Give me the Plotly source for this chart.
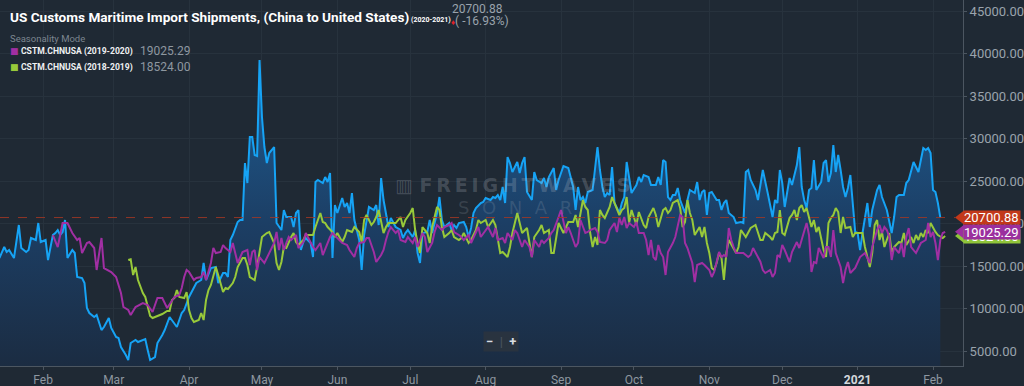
import plotly.graph_objects as go

# ---------------- data ----------------
blue_dates = """
2020-01-14 2020-01-16 2020-01-17 2020-01-18 2020-01-20 2020-01-22 2020-01-23 2020-01-25 2020-01-26 2020-01-27 2020-01-29 2020-01-30 2020-01-31
2020-02-02 2020-02-03 2020-02-05 2020-02-06 2020-02-07 2020-02-08 2020-02-09 2020-02-10 2020-02-11 2020-02-13 2020-02-14 2020-02-15 2020-02-17 2020-02-18 2020-02-19 2020-02-20 2020-02-22 2020-02-23 2020-02-25 2020-02-26 2020-02-28 2020-02-29
2020-03-02 2020-03-03 2020-03-04 2020-03-06 2020-03-07 2020-03-08 2020-03-10 2020-03-11 2020-03-13 2020-03-14 2020-03-15 2020-03-16 2020-03-18 2020-03-19 2020-03-21 2020-03-22 2020-03-24 2020-03-25 2020-03-27 2020-03-29 2020-03-30
2020-04-01 2020-04-02 2020-04-03 2020-04-04 2020-04-06 2020-04-07 2020-04-08 2020-04-09 2020-04-10 2020-04-12 2020-04-13 2020-04-15 2020-04-16 2020-04-17 2020-04-18 2020-04-19 2020-04-21 2020-04-22 2020-04-23 2020-04-24 2020-04-25 2020-04-26 2020-04-27 2020-04-28 2020-04-29 2020-04-30
2020-05-01 2020-05-02 2020-05-03 2020-05-04 2020-05-06 2020-05-07 2020-05-08 2020-05-09 2020-05-10 2020-05-11 2020-05-13 2020-05-14 2020-05-15 2020-05-16 2020-05-17 2020-05-18 2020-05-19 2020-05-21 2020-05-22 2020-05-23 2020-05-24 2020-05-26 2020-05-27 2020-05-28 2020-05-29 2020-05-30 2020-05-31
2020-06-01 2020-06-03 2020-06-04 2020-06-05 2020-06-06 2020-06-07 2020-06-08 2020-06-10 2020-06-11 2020-06-12 2020-06-14 2020-06-16 2020-06-17 2020-06-18 2020-06-19 2020-06-20 2020-06-21 2020-06-22 2020-06-23 2020-06-24 2020-06-25 2020-06-27 2020-06-28 2020-06-29 2020-06-30
2020-07-02 2020-07-03 2020-07-04 2020-07-05 2020-07-06 2020-07-08 2020-07-09 2020-07-10 2020-07-12 2020-07-13 2020-07-14 2020-07-15 2020-07-17 2020-07-18 2020-07-19 2020-07-20 2020-07-21 2020-07-23 2020-07-24 2020-07-25 2020-07-26 2020-07-27 2020-07-28 2020-07-30 2020-07-31
2020-08-01 2020-08-03 2020-08-04 2020-08-05 2020-08-06 2020-08-07 2020-08-08 2020-08-09 2020-08-10 2020-08-11 2020-08-12 2020-08-14 2020-08-15 2020-08-16 2020-08-17 2020-08-18 2020-08-20 2020-08-21 2020-08-22 2020-08-24 2020-08-25 2020-08-26 2020-08-27 2020-08-29 2020-08-30 2020-08-31
2020-09-01 2020-09-02 2020-09-04 2020-09-05 2020-09-06 2020-09-07 2020-09-08 2020-09-09 2020-09-10 2020-09-11 2020-09-12 2020-09-14 2020-09-15 2020-09-16 2020-09-17 2020-09-18 2020-09-19 2020-09-20 2020-09-21 2020-09-22 2020-09-23 2020-09-25 2020-09-26 2020-09-27 2020-09-28 2020-09-29 2020-09-30
2020-10-02 2020-10-03 2020-10-04 2020-10-05 2020-10-07 2020-10-08 2020-10-10 2020-10-11 2020-10-12 2020-10-13 2020-10-14 2020-10-15 2020-10-16 2020-10-17 2020-10-18 2020-10-19 2020-10-20 2020-10-21 2020-10-22 2020-10-23 2020-10-24 2020-10-26 2020-10-27 2020-10-28 2020-10-29 2020-10-30 2020-10-31
2020-11-01 2020-11-02 2020-11-04 2020-11-05 2020-11-06 2020-11-07 2020-11-08 2020-11-09 2020-11-11 2020-11-12 2020-11-14 2020-11-15 2020-11-16 2020-11-17 2020-11-18 2020-11-20 2020-11-21 2020-11-22 2020-11-23 2020-11-25 2020-11-26 2020-11-27 2020-11-28 2020-11-29 2020-11-30
2020-12-01 2020-12-02 2020-12-03 2020-12-04 2020-12-05 2020-12-07 2020-12-08 2020-12-09 2020-12-10 2020-12-11 2020-12-12 2020-12-13 2020-12-14 2020-12-15 2020-12-17 2020-12-18 2020-12-19 2020-12-20 2020-12-21 2020-12-22 2020-12-23 2020-12-24 2020-12-25 2020-12-26 2020-12-27 2020-12-28 2020-12-29 2020-12-30 2020-12-31
2021-01-01 2021-01-02 2021-01-03 2021-01-04 2021-01-05 2021-01-06 2021-01-07 2021-01-08 2021-01-09 2021-01-10 2021-01-11 2021-01-13 2021-01-14 2021-01-15 2021-01-16 2021-01-17 2021-01-18 2021-01-20 2021-01-21 2021-01-22 2021-01-24 2021-01-25 2021-01-26 2021-01-27 2021-01-28 2021-01-29 2021-01-30 2021-01-31
2021-02-01 2021-02-02 2021-02-03 2021-02-04
""".split()
blue_values = [
    15940, 17235, 16646, 16882, 15940, 19823, 17117, 16646, 16882, 18294, 18058, 20058, 17823,
    18058, 15705, 18646, 18882, 19235, 18646, 19000, 20411, 15940, 16882, 16529, 13705, 13588, 12999, 10058, 9470, 9000, 9235, 7470, 7823, 8882, 7705,
    6646, 6528, 5470, 4528, 3940, 5940, 6293, 6058, 6293, 6411, 5117, 3940, 4293, 5940, 6881, 7470, 9000, 8646, 7823, 9470, 9823,
    11352, 11940, 12411, 12999, 13352, 15352, 13352, 14176, 14764, 14881, 12999, 14176, 14176, 13705, 18058, 18646, 20176, 20411, 20411, 27117, 24764, 30176, 30176, 28058, 27941, 39235,
    32529, 28999, 27117, 28294, 28999, 20058, 19588, 19235, 21588, 20764, 20764, 19588, 21235, 21588, 16882, 17823, 18294, 17705, 16058, 24882, 25117, 24764, 25470, 24882, 25941, 15940, 22176,
    21235, 23000, 21941, 22411, 21235, 23588, 20411, 18058, 14529, 18646, 21941, 21588, 22176, 19823, 25353, 22764, 21235, 19588, 20647, 20058, 19588, 19235, 18294, 18882, 19235,
    18411, 19235, 16529, 15352, 18882, 19000, 20411, 18882, 21235, 23117, 20411, 19588, 20058, 19235, 19823, 19470, 20058, 20176, 19588, 18411, 19470, 21235, 21823, 22411, 22529,
    23000, 22764, 23117, 23000, 23352, 22764, 24294, 22411, 27823, 27117, 26058, 27235, 25941, 27117, 27823, 23705, 22764, 26058, 25117, 24764, 25353, 24294, 25470, 26529, 23941, 25117,
    25941, 26764, 26529, 25470, 24294, 21588, 24294, 22764, 23117, 22411, 23705, 23941, 26294, 28999, 26294, 24294, 23117, 23588, 23352, 26647, 22411, 21235, 22411, 23117, 27235, 25470, 23588,
    24529, 25470, 24882, 25706, 25470, 24529, 24529, 25470, 24529, 27470, 27235, 23117, 22764, 23352, 23352, 24176, 22764, 21941, 21235, 22764, 23941, 23588, 24882, 22764, 23705, 23941, 21000,
    23588, 23705, 22764, 22764, 21588, 22411, 22764, 21235, 20764, 20058, 20176, 20058, 26058, 26294, 25117, 23941, 22764, 24400, 26294, 23588, 21941, 20764, 22764, 22411, 26294,
    24764, 21941, 23588, 25353, 24529, 26882, 28999, 24294, 22764, 21823, 23941, 24176, 27470, 23941, 24882, 27117, 27470, 24882, 25941, 29235, 26058, 28058, 26294, 24294, 23117, 24176, 25706, 21941, 19000,
    18882, 16882, 18882, 20411, 22411, 19588, 21588, 22764, 23941, 24529, 23117, 21588, 20411, 18882, 20764, 23117, 23352, 23352, 24764, 25117, 27235, 26647, 26058, 27470, 28882, 28647, 28882, 28294,
    23941, 23705, 22411, 20700.88,
]

purple_dates = """
2020-02-05 2020-02-07 2020-02-09 2020-02-11 2020-02-13 2020-02-15 2020-02-16 2020-02-17 2020-02-19 2020-02-20 2020-02-22 2020-02-23 2020-02-25 2020-02-26 2020-02-29
2020-03-02 2020-03-04 2020-03-05 2020-03-07 2020-03-08 2020-03-10 2020-03-13 2020-03-15 2020-03-17 2020-03-19 2020-03-21 2020-03-23 2020-03-26 2020-03-28 2020-03-29 2020-03-30 2020-03-31
2020-04-01 2020-04-03 2020-04-04 2020-04-06 2020-04-07 2020-04-08 2020-04-10 2020-04-11 2020-04-12 2020-04-14 2020-04-15 2020-04-16 2020-04-18 2020-04-19 2020-04-21 2020-04-22 2020-04-23 2020-04-25 2020-04-26 2020-04-27 2020-04-28 2020-04-29 2020-04-30
2020-05-02 2020-05-03 2020-05-04 2020-05-06 2020-05-07 2020-05-08 2020-05-09 2020-05-10 2020-05-11 2020-05-12 2020-05-13 2020-05-15 2020-05-16 2020-05-18 2020-05-19 2020-05-21 2020-05-22 2020-05-23 2020-05-25 2020-05-26 2020-05-28 2020-05-29 2020-05-30
2020-06-01 2020-06-02 2020-06-03 2020-06-05 2020-06-06 2020-06-08 2020-06-09 2020-06-10 2020-06-12 2020-06-13 2020-06-14 2020-06-16 2020-06-17 2020-06-19 2020-06-20 2020-06-21 2020-06-22 2020-06-23 2020-06-25 2020-06-26 2020-06-27 2020-06-29 2020-06-30
2020-07-02 2020-07-03 2020-07-04 2020-07-06 2020-07-07 2020-07-08 2020-07-10 2020-07-11 2020-07-12 2020-07-14 2020-07-15 2020-07-17 2020-07-18 2020-07-19 2020-07-21 2020-07-22 2020-07-23 2020-07-25 2020-07-26 2020-07-28 2020-07-29 2020-07-30
2020-08-01 2020-08-02 2020-08-04 2020-08-05 2020-08-06 2020-08-08 2020-08-09 2020-08-10 2020-08-12 2020-08-13 2020-08-14 2020-08-16 2020-08-17 2020-08-19 2020-08-20 2020-08-21 2020-08-23 2020-08-24 2020-08-25 2020-08-27 2020-08-28 2020-08-29 2020-08-31
2020-09-01 2020-09-03 2020-09-04 2020-09-05 2020-09-06 2020-09-07 2020-09-08 2020-09-09 2020-09-11 2020-09-12 2020-09-13 2020-09-15 2020-09-16 2020-09-17 2020-09-19 2020-09-20 2020-09-21 2020-09-23 2020-09-24 2020-09-25 2020-09-26 2020-09-27 2020-09-28 2020-09-29
2020-10-01 2020-10-02 2020-10-03 2020-10-05 2020-10-06 2020-10-07 2020-10-08 2020-10-09 2020-10-10 2020-10-11 2020-10-12 2020-10-13 2020-10-14 2020-10-15 2020-10-17 2020-10-18 2020-10-20 2020-10-21 2020-10-22 2020-10-23 2020-10-25 2020-10-26 2020-10-27 2020-10-29 2020-10-30
2020-11-01 2020-11-02 2020-11-03 2020-11-05 2020-11-06 2020-11-07 2020-11-08 2020-11-09 2020-11-10 2020-11-11 2020-11-12 2020-11-14 2020-11-15 2020-11-17 2020-11-18 2020-11-19 2020-11-21 2020-11-22 2020-11-23 2020-11-24 2020-11-26 2020-11-27 2020-11-28 2020-11-29 2020-11-30
2020-12-01 2020-12-02 2020-12-04 2020-12-05 2020-12-06 2020-12-07 2020-12-08 2020-12-09 2020-12-11 2020-12-12 2020-12-13 2020-12-14 2020-12-15 2020-12-16 2020-12-18 2020-12-19 2020-12-20 2020-12-21 2020-12-22 2020-12-23 2020-12-25 2020-12-26 2020-12-27 2020-12-28 2020-12-29 2020-12-31
2021-01-01 2021-01-02 2021-01-04 2021-01-06 2021-01-07 2021-01-09 2021-01-10 2021-01-11 2021-01-12 2021-01-13 2021-01-14 2021-01-15 2021-01-16 2021-01-18 2021-01-19 2021-01-20 2021-01-21 2021-01-22 2021-01-23 2021-01-25 2021-01-26 2021-01-27 2021-01-29 2021-01-30 2021-01-31
2021-02-01 2021-02-02 2021-02-03 2021-02-04 2021-02-05 2021-02-06
""".split()
purple_values = [
    18646, 17235, 20058, 20058, 18882, 18058, 18294, 16529, 17705, 17823, 17117, 14529, 18294, 14764, 14293,
    13705, 11823, 10176, 9823, 9235, 10176, 10647, 10411, 9588, 11234, 11234, 10058, 11352, 11587, 12411, 13705, 14529,
    14293, 13352, 13588, 13705, 14293, 13352, 15352, 17117, 16529, 16646, 17470, 17117, 16646, 17705, 15352, 15940, 16646, 16882, 15117, 16646, 16882, 14529, 16058,
    15352, 15940, 16529, 17705, 19000, 16882, 18294, 16882, 17705, 18411, 18058, 18646, 17117, 17823, 18882, 17705, 17235, 16882, 17705, 16293, 17823, 18411, 18882,
    18294, 18058, 17705, 17470, 16882, 16058, 17117, 17705, 17823, 18294, 18294, 16646, 15470, 16293, 16882, 18058, 19000, 19588, 18882, 19235, 18058, 17823, 18411,
    17705, 18411, 17235, 18882, 18411, 16646, 17705, 19000, 19823, 19235, 19588, 19823, 20058, 19000, 18646, 18411, 18058, 18646, 17705, 18882, 19588, 18411,
    19235, 19588, 18411, 19470, 18058, 18294, 17705, 18882, 18058, 19235, 18882, 17235, 18058, 17235, 16058, 18058, 17235, 18058, 17705, 18294, 18882, 19235, 20764,
    21588, 18882, 19588, 18882, 18058, 17235, 17705, 20411, 18882, 19000, 19235, 19470, 19000, 17823, 17705, 18058, 19235, 20058, 19000, 20647, 19823, 20764, 19470, 20058,
    19588, 20176, 18882, 18882, 18058, 16293, 18058, 16058, 15705, 17470, 16529, 16058, 13941, 16646, 17705, 18411, 21000, 20764, 17705, 17117, 15352, 13117, 15117, 15352, 15117,
    14529, 13705, 14293, 16646, 16058, 16293, 16058, 19470, 18058, 17235, 16529, 16529, 16529, 16058, 16293, 17117, 16058, 15500, 14529, 14176, 14529, 13705, 14176, 16293, 16058,
    17470, 16882, 15470, 16646, 17235, 17823, 17117, 18058, 20058, 18646, 14293, 15470, 15352, 17117, 15940, 17235, 17235, 16058, 19235, 16529, 14881, 12999, 14529, 15470, 14176, 14764,
    15352, 16058, 16529, 15352, 17235, 19235, 19823, 18882, 19588, 19235, 18411, 15705, 17235, 16529, 17705, 16058, 18411, 19470, 17235, 16529, 17117, 17705, 18058, 20058, 18411,
    19000, 17705, 15705, 18058, 18882, 19025.29,
]

green_dates = """
2020-03-07 2020-03-08 2020-03-09 2020-03-10 2020-03-11 2020-03-12 2020-03-13 2020-03-14 2020-03-15 2020-03-16 2020-03-17 2020-03-19 2020-03-20 2020-03-21 2020-03-23 2020-03-24 2020-03-25 2020-03-26 2020-03-27 2020-03-28 2020-03-30 2020-03-31
2020-04-01 2020-04-02 2020-04-03 2020-04-05 2020-04-06 2020-04-07 2020-04-08 2020-04-09 2020-04-10 2020-04-11 2020-04-12 2020-04-13 2020-04-15 2020-04-16 2020-04-17 2020-04-19 2020-04-20 2020-04-21 2020-04-23 2020-04-24 2020-04-25 2020-04-26 2020-04-28 2020-04-29 2020-04-30
2020-05-01 2020-05-03 2020-05-04 2020-05-06 2020-05-07 2020-05-08 2020-05-09 2020-05-10 2020-05-11 2020-05-13 2020-05-14 2020-05-15 2020-05-16 2020-05-18 2020-05-19 2020-05-20 2020-05-22 2020-05-23 2020-05-25 2020-05-26 2020-05-27 2020-05-28 2020-05-30 2020-05-31
2020-06-01 2020-06-03 2020-06-04 2020-06-05 2020-06-07 2020-06-08 2020-06-10 2020-06-11 2020-06-12 2020-06-13 2020-06-15 2020-06-16 2020-06-17 2020-06-18 2020-06-20 2020-06-21 2020-06-22 2020-06-24 2020-06-25 2020-06-27 2020-06-28 2020-06-29
2020-07-01 2020-07-02 2020-07-03 2020-07-04 2020-07-05 2020-07-06 2020-07-08 2020-07-09 2020-07-10 2020-07-12 2020-07-13 2020-07-14 2020-07-15 2020-07-17 2020-07-18 2020-07-19 2020-07-21 2020-07-22 2020-07-23 2020-07-25 2020-07-26 2020-07-28 2020-07-29 2020-07-30
2020-08-01 2020-08-02 2020-08-04 2020-08-05 2020-08-06 2020-08-07 2020-08-08 2020-08-10 2020-08-11 2020-08-12 2020-08-14 2020-08-15 2020-08-16 2020-08-18 2020-08-19 2020-08-20 2020-08-21 2020-08-23 2020-08-24 2020-08-25 2020-08-27 2020-08-28 2020-08-29 2020-08-30 2020-08-31
2020-09-02 2020-09-03 2020-09-04 2020-09-06 2020-09-07 2020-09-08 2020-09-09 2020-09-10 2020-09-11 2020-09-12 2020-09-13 2020-09-14 2020-09-15 2020-09-16 2020-09-17 2020-09-18 2020-09-19 2020-09-21 2020-09-22 2020-09-24 2020-09-25 2020-09-26 2020-09-27 2020-09-28 2020-09-29 2020-09-30
2020-10-02 2020-10-03 2020-10-05 2020-10-06 2020-10-07 2020-10-09 2020-10-10 2020-10-11 2020-10-13 2020-10-14 2020-10-15 2020-10-16 2020-10-17 2020-10-19 2020-10-20 2020-10-21 2020-10-22 2020-10-23 2020-10-24 2020-10-25 2020-10-26 2020-10-28 2020-10-29 2020-10-30 2020-10-31
2020-11-01 2020-11-02 2020-11-03 2020-11-04 2020-11-05 2020-11-06 2020-11-07 2020-11-08 2020-11-09 2020-11-11 2020-11-12 2020-11-13 2020-11-14 2020-11-16 2020-11-17 2020-11-18 2020-11-20 2020-11-21 2020-11-22 2020-11-23 2020-11-24 2020-11-26 2020-11-27 2020-11-28 2020-11-29 2020-11-30
2020-12-01 2020-12-02 2020-12-03 2020-12-04 2020-12-05 2020-12-06 2020-12-07 2020-12-08 2020-12-09 2020-12-10 2020-12-11 2020-12-12 2020-12-13 2020-12-14 2020-12-15 2020-12-16 2020-12-17 2020-12-18 2020-12-19 2020-12-20 2020-12-21 2020-12-22 2020-12-23 2020-12-24 2020-12-25 2020-12-26 2020-12-27 2020-12-29 2020-12-30 2020-12-31
2021-01-01 2021-01-03 2021-01-04 2021-01-05 2021-01-06 2021-01-07 2021-01-08 2021-01-09 2021-01-10 2021-01-11 2021-01-12 2021-01-13 2021-01-14 2021-01-15 2021-01-16 2021-01-18 2021-01-19 2021-01-20 2021-01-21 2021-01-23 2021-01-24 2021-01-25 2021-01-26 2021-01-27 2021-01-28 2021-01-29 2021-01-30 2021-01-31
2021-02-01 2021-02-02 2021-02-03 2021-02-05 2021-02-06
""".split()
green_values = [
    15705, 15800, 13940, 14881, 13352, 12529, 11823, 11352, 10058, 9117, 8882, 9117, 9235, 9353, 9706, 9706, 11000, 11234, 12176, 11352, 11234, 11940,
    9823, 8882, 8411, 8646, 9470, 8646, 11000, 12176, 12764, 13940, 14881, 13940, 11940, 12411, 12294, 12999, 13705, 14881, 15940, 15940, 15117, 13705, 13352, 14881, 16882,
    18411, 18882, 19000, 17705, 15352, 14529, 15470, 17235, 17117, 18411, 18882, 17823, 17470, 18058, 18646, 18646, 18646, 19588, 21235, 20176, 20058, 19588, 19000, 18411,
    18882, 17823, 18411, 19235, 19000, 19588, 19000, 17823, 20411, 21000, 19823, 20176, 20764, 21588, 18882, 19588, 20058, 20058, 20058, 20764, 19588, 20411,
    21235, 21823, 19235, 17705, 16529, 19588, 18882, 17705, 19588, 21941, 21588, 19588, 18411, 18882, 19235, 18411, 18058, 18294, 18882, 17705, 18058, 19235, 20411, 20058,
    20411, 19588, 20411, 19823, 18058, 16529, 16646, 16058, 17235, 18882, 21235, 20058, 18882, 19470, 17705, 16058, 18411, 19235, 19823, 18882, 19235, 16529, 16529, 18411, 20058,
    18882, 19588, 20176, 20176, 21000, 19588, 21235, 22764, 21941, 21588, 18882, 17235, 18411, 17470, 21588, 21000, 20647, 21941, 23117, 21588, 21000, 21588, 21823, 23117, 20058, 21588,
    19823, 21353, 19823, 19470, 20764, 21823, 21000, 19588, 21588, 21823, 21235, 21588, 22411, 22764, 21823, 19588, 20176, 22764, 21235, 20411, 18646, 19588, 18411, 19588, 17705,
    16529, 14764, 14529, 15352, 16529, 15940, 13352, 16529, 18058, 17117, 16529, 17235, 19235, 18411, 19000, 19470, 19823, 19000, 18058, 18058, 18882, 18411, 18058, 18882, 19000, 21588,
    18882, 18646, 19588, 20647, 21000, 21588, 20411, 21823, 22176, 21353, 21823, 20647, 19588, 20411, 19000, 19588, 18294, 16882, 16058, 20058, 20647, 21000, 21823, 21353, 18882, 20764, 19470, 19588, 18411, 18882,
    18882, 18882, 17235, 15940, 14881, 16529, 19823, 20411, 18058, 19000, 17235, 18058, 18882, 16646, 17235, 17823, 17705, 18882, 17470, 18411, 17705, 18646, 18058, 18882, 18411, 19235, 18882, 20058,
    19470, 19000, 18646, 18294, 18524,
]

assert len(blue_dates) == len(blue_values)
assert len(purple_dates) == len(purple_values)
assert len(green_dates) == len(green_values)

month_ticks = ["2020-02-01", "2020-03-01", "2020-04-01", "2020-05-01", "2020-06-01", "2020-07-01",
               "2020-08-01", "2020-09-01", "2020-10-01", "2020-11-01", "2020-12-01", "2021-01-01", "2021-02-01"]
month_labels = ["Feb", "Mar", "Apr", "May", "Jun", "Jul", "Aug", "Sep", "Oct", "Nov", "Dec",
                "<span style='color:#d4d8dc'><b>2021</b></span>", "Feb"]
y_ticks = [5000, 10000, 15000, 20000, 25000, 30000, 35000, 40000, 45000]
y_labels = [f"{v:.2f}" for v in y_ticks]

title_text = "US Customs Maritime Import Shipments, (China to United States)"
subtitle_text = "(2020-2021)"
legend_names = ["CSTM.CHNUSA (2019-2020)", "CSTM.CHNUSA (2018-2019)"]
last_blue = blue_values[-1]
last_purple = purple_values[-1]
last_green = green_values[-1]
change_text = "( -16.93%)"

# ---------------- style ----------------
BG = "#1f2934"
GRID = "#27323d"
AXIS = "#4c5661"
BLUE = "#16a3f5"
PURPLE = "#a12fa3"
GREEN = "#98c93a"
RED = "#c2381a"

W, H = 1024, 386
ML, MR, MT, MB = 0, 61, 0, 20
PW, PH = W - ML - MR, H - MT - MB


def px(x):
    return (x - ML) / PW


def py(y):
    return 1 - (y - MT) / PH


fig = go.Figure()
fig.add_trace(go.Scatter(
    x=blue_dates, y=blue_values, mode="lines", line=dict(color=BLUE, width=2),
    fill="tozeroy",
    fillgradient=dict(type="vertical", start=3200, stop=40000,
                      colorscale=[[0, "rgb(27,44,66)"], [0.45, "rgb(28,62,100)"], [1, "rgb(30,96,152)"]]),
    showlegend=False, hoverinfo="skip"))
fig.add_trace(go.Scatter(x=green_dates, y=green_values, mode="lines",
                         line=dict(color=GREEN, width=2), showlegend=False, hoverinfo="skip"))
fig.add_trace(go.Scatter(x=purple_dates, y=purple_values, mode="lines",
                         line=dict(color=PURPLE, width=2), showlegend=False, hoverinfo="skip"))

fig.update_layout(
    width=W, height=H, margin=dict(l=ML, r=MR, t=MT, b=MB, pad=0, autoexpand=False),
    paper_bgcolor=BG, plot_bgcolor=BG,
    font=dict(family="Roboto, sans-serif", color="#9aa3ac"),
    xaxis=dict(type="date", range=["2020-01-14 06:00", "2021-02-13 08:00"], automargin=False,
               tickvals=month_ticks, ticktext=month_labels,
               showgrid=True, gridcolor=GRID, gridwidth=1, zeroline=False,
               showline=True, linecolor=AXIS, linewidth=1,
               ticks="outside", ticklen=3, tickcolor=AXIS,
               tickfont=dict(size=12, color="#8e97a0", family="Roboto")),
    yaxis=dict(side="right", range=[3236, 46294], tickvals=y_ticks, ticktext=y_labels, automargin=False,
               showgrid=True, gridcolor=GRID, zeroline=False,
               showline=True, linecolor=AXIS, linewidth=1,
               ticks="outside", ticklen=3, tickcolor=AXIS,
               tickfont=dict(size=13, color="#9aa3ac", family="Roboto")),
)

# dashed reference line at last value
fig.add_shape(type="line", xref="paper", yref="y", x0=0, x1=px(955), y0=last_blue, y1=last_blue,
              line=dict(color="rgba(165,55,35,0.85)", width=1, dash="dash"))

ann = []
# title block
ann.append(dict(x=px(8), y=py(17), xref="paper", yref="paper", xanchor="left", yanchor="middle",
                text=f"<b>{title_text}</b>", showarrow=False,
                font=dict(family="Roboto", size=13.6, color="#ffffff")))
ann.append(dict(x=px(409), y=py(20), xref="paper", yref="paper", xanchor="left", yanchor="middle",
                text=f"<b>{subtitle_text}</b>", showarrow=False,
                font=dict(family="Roboto", size=7, color="#ffffff")))
ann.append(dict(x=px(450), y=py(9), xref="paper", yref="paper", xanchor="left", yanchor="middle",
                text=f"{last_blue:.2f}", showarrow=False,
                font=dict(family="Roboto", size=12, color="#9aa3ac")))
ann.append(dict(x=px(449), y=py(21), xref="paper", yref="paper", xanchor="left", yanchor="middle",
                text=f"<span style='color:#e0222a;font-size:8px'>♦</span>{change_text}", showarrow=False,
                font=dict(family="Roboto", size=12, color="#9aa3ac")))
# legend block
ann.append(dict(x=px(8), y=py(38), xref="paper", yref="paper", xanchor="left", yanchor="middle",
                text="Seasonality Mode", showarrow=False,
                font=dict(family="Roboto", size=9.5, color="#7d8690")))
for row_y, col, name, val in [(51, PURPLE, legend_names[0], last_purple), (67, GREEN, legend_names[1], last_green)]:
    ann.append(dict(x=px(8), y=py(row_y), xref="paper", yref="paper", xanchor="left", yanchor="middle",
                    text="■", showarrow=False, font=dict(family="DejaVu Sans", size=9, color=col)))
    ann.append(dict(x=px(19), y=py(row_y), xref="paper", yref="paper", xanchor="left", yanchor="middle",
                    text=f"<b>{name}</b>", showarrow=False,
                    font=dict(family="Roboto", size=8.6, color="#eef0f2")))
    ann.append(dict(x=px(138), y=py(row_y), xref="paper", yref="paper", xanchor="left", yanchor="middle",
                    text=f"{val:.2f}", showarrow=False,
                    font=dict(family="Roboto", size=12, color="#8e97a0")))
# watermark
ann.append(dict(x=px(512), y=py(185), xref="paper", yref="paper", xanchor="center", yanchor="middle",
                text="<b>▥ F\u2009R\u2009E\u2009I\u2009G\u2009H\u2009T\u2009W\u2009A\u2009V\u2009E\u2009S</b>", showarrow=False,
                font=dict(family="DejaVu Sans", size=19, color="rgba(190,196,204,0.24)")))
ann.append(dict(x=px(515), y=py(207), xref="paper", yref="paper", xanchor="center", yanchor="middle",
                text="S\u2002\u2009O\u2002\u2009N\u2002\u2009A\u2002\u2009R", showarrow=False,
                font=dict(family="DejaVu Sans", size=18, color="rgba(190,196,204,0.17)")))
# zoom buttons
ann.append(dict(x=px(501), y=py(341), xref="paper", yref="paper", xanchor="center", yanchor="middle",
                text="<b>−</b>  <span style='color:#4a5562'>|</span>  <b>+</b>", showarrow=False,
                bgcolor="rgba(42,52,63,0.95)", borderpad=2,
                font=dict(family="Roboto", size=13, color="#d8dde2")))

# right-hand value tags (green under purple under red)
half = 7 / 0.0085
for val, col, hgt in [(last_green, "#8fc43a", 13), (last_purple, "#9b2f9e", 14), (last_blue, RED, 13)]:
    fig.add_shape(type="path", xref="paper", yref="y",
                  path=f"M {px(955)},{val} L {px(964)},{val + half} L {px(964)},{val - half} Z",
                  fillcolor=col, line=dict(width=0))
    ann.append(dict(x=px(963), y=val, xref="paper", yref="y", xanchor="left", yanchor="middle",
                    text=f"{val:.2f}", showarrow=False, bgcolor=col, width=56, height=hgt, align="left",
                    borderpad=0, font=dict(family="Roboto", size=13, color="#ffffff")))

fig.update_layout(annotations=ann)
fig.write_html("out.html", config={"responsive": False, "displayModeBar": False},
               post_script="document.body.style.margin='0';document.body.style.padding='0';"
                           "document.body.style.overflow='hidden';")
